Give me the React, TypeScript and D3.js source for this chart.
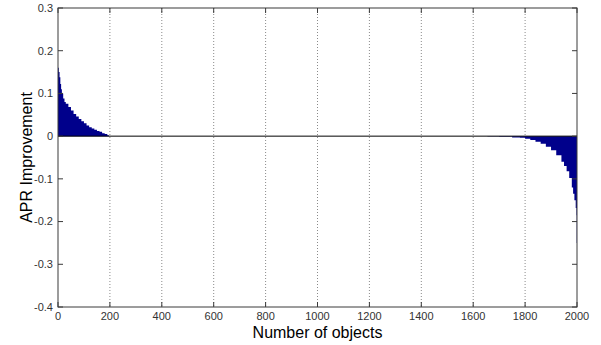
import React from "react";
import * as d3 from "d3";

// Sorted per-object APR improvement, sampled from the figure (object index -> value)
const posIdx = [0, 3, 6, 9, 12, 15, 20, 25, 30, 40, 50, 60, 70, 80, 90, 100, 110, 120, 130, 140, 150, 160, 170, 180, 190];
const posVal = [0.16, 0.15, 0.138, 0.122, 0.11, 0.1, 0.088, 0.08, 0.076, 0.068, 0.06, 0.052, 0.046, 0.04, 0.035, 0.03, 0.025, 0.021, 0.018, 0.015, 0.012, 0.01, 0.007, 0.005, 0.002];
const posEnd = 196;

const negIdx = [1655, 1700, 1750, 1780, 1800, 1820, 1840, 1860, 1880, 1900, 1920, 1940, 1950, 1960, 1970, 1980, 1985, 1990, 1995, 1998, 1999];
const negVal = [-0.0008, -0.0015, -0.003, -0.004, -0.006, -0.009, -0.013, -0.018, -0.025, -0.033, -0.045, -0.06, -0.07, -0.082, -0.098, -0.12, -0.135, -0.15, -0.168, -0.185, -0.25];
const negEnd = 2000;

const xTicks = [0, 200, 400, 600, 800, 1000, 1200, 1400, 1600, 1800, 2000];
const yTicks = [0.3, 0.2, 0.1, 0, -0.1, -0.2, -0.3, -0.4];

const xLabel = "Number of objects";
const yLabel = "APR Improvement";

const App = () => {
  const width = 601;
  const height = 345;
  const margin = { top: 8, right: 24, bottom: 38, left: 58 };
  const x0 = margin.left;
  const x1 = width - margin.right;
  const y0 = margin.top;
  const y1 = height - margin.bottom;

  const x = d3.scaleLinear().domain([0, 2000]).range([x0, x1]);
  const y = d3.scaleLinear().domain([-0.4, 0.3]).range([y1, y0]);

  // bars of one group drawn as a single stepped shape so neighbours don't leave seams
  const barArea = d3
    .area<[number, number]>()
    .x((d) => x(d[0]))
    .y0(y(0))
    .y1((d) => y(d[1]))
    .curve(d3.curveStepAfter);

  const group = (idx, vals, end) => [
    ...idx.map((n, i) => [n, vals[i]] as [number, number]),
    [end, vals[vals.length - 1]] as [number, number],
  ];

  const axisColor = "#3a3a3a";
  const tickLen = 5;
  const font = "'Liberation Sans', Arial, sans-serif";

  return (
    <svg width={width} height={height} style={{ position: "absolute", left: 0, top: 0, background: "#fff" }}>
      <rect x={0} y={0} width={width} height={height} fill="#fff" />

      {/* grid */}
      {xTicks.slice(1, -1).map((t) => (
        <line key={"g" + t} x1={x(t)} x2={x(t)} y1={y0} y2={y1} stroke="#8a8a8a" strokeWidth={1} strokeDasharray="1,2" />
      ))}

      {/* bars */}
      <path d={barArea(group(posIdx, posVal, posEnd)) || ""} fill="#00008B" />
      <path d={barArea(group(negIdx, negVal, negEnd)) || ""} fill="#00008B" />

      {/* baseline */}
      <line x1={x0} x2={x1} y1={y(0)} y2={y(0)} stroke="#000" strokeWidth={1} />

      {/* box */}
      <rect x={x0} y={y0} width={x1 - x0} height={y1 - y0} fill="none" stroke={axisColor} strokeWidth={1} />

      {/* x ticks */}
      {xTicks.map((t) => (
        <g key={"x" + t}>
          <line x1={x(t)} x2={x(t)} y1={y1} y2={y1 - tickLen} stroke={axisColor} />
          <line x1={x(t)} x2={x(t)} y1={y0} y2={y0 + tickLen} stroke={axisColor} />
          <text x={x(t)} y={320} textAnchor="middle" fontSize={11} fontFamily={font} fill="#333">
            {t}
          </text>
        </g>
      ))}

      {/* y ticks */}
      {yTicks.map((t) => (
        <g key={"y" + t}>
          <line x1={x0} x2={x0 + tickLen} y1={y(t)} y2={y(t)} stroke={axisColor} />
          <line x1={x1} x2={x1 - tickLen} y1={y(t)} y2={y(t)} stroke={axisColor} />
          <text x={53} y={y(t)} dy="0.35em" textAnchor="end" fontSize={11} fontFamily={font} fill="#333">
            {t === 0 ? "0" : d3.format(".1f")(t).replace("−", "-")}
          </text>
        </g>
      ))}

      <text x={(x0 + x1) / 2} y={338} textAnchor="middle" fontSize={16} fontFamily={font} fill="#000">
        {xLabel}
      </text>
      <text
        transform={`translate(32,${(y0 + y1) / 2}) rotate(-90)`}
        textAnchor="middle"
        fontSize={16}
        fontFamily={font}
        fill="#000"
      >
        {yLabel}
      </text>
    </svg>
  );
};

export default App;
